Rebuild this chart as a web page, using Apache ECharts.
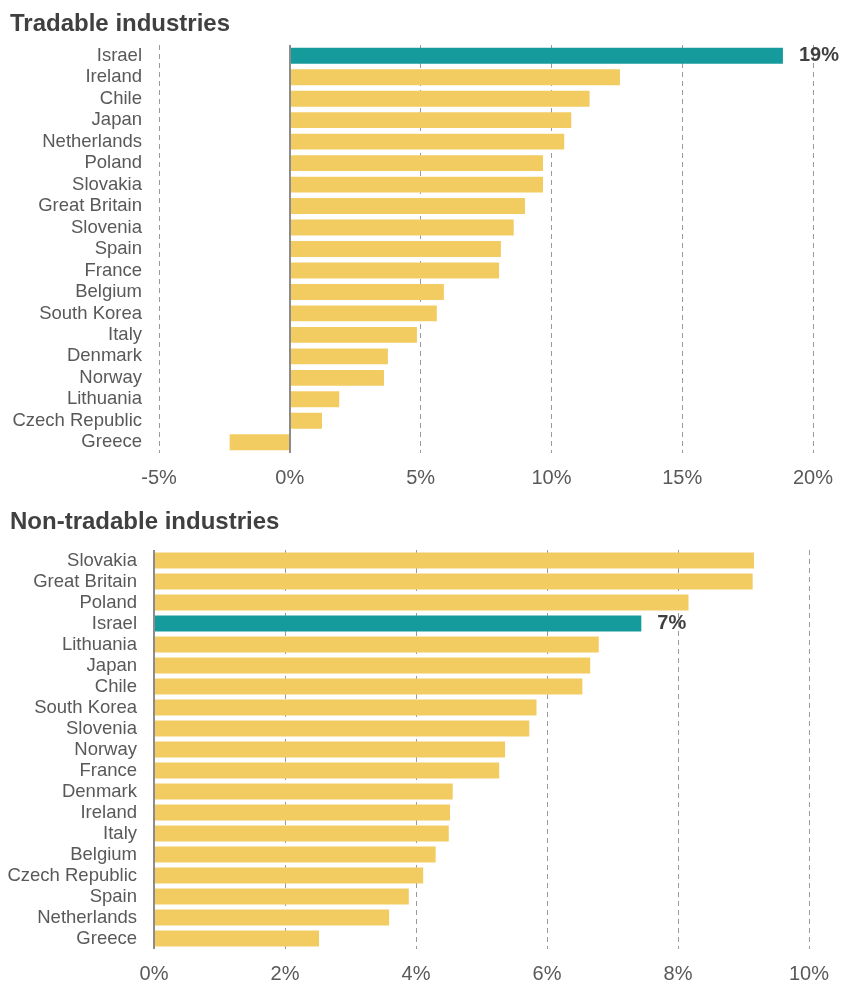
<!DOCTYPE html>
<html>
<head>
<meta charset="utf-8">
<script src="https://cdn.jsdelivr.net/npm/echarts@6/dist/echarts.min.js"></script>
<style>
  html, body { margin: 0; padding: 0; background: #fff; }
  #chart { width: 842px; height: 984px; }
</style>
</head>
<body>
<div id="chart"></div>
<script>
// Tradable industries (percent)
const tradableCountries = ['Israel', 'Ireland', 'Chile', 'Japan', 'Netherlands', 'Poland', 'Slovakia',
  'Great Britain', 'Slovenia', 'Spain', 'France', 'Belgium', 'South Korea', 'Italy', 'Denmark',
  'Norway', 'Lithuania', 'Czech Republic', 'Greece'];
const tradableValues = [18.85, 12.62, 11.46, 10.76, 10.49, 9.68, 9.68, 8.99, 8.56, 8.07, 8.0,
  5.89, 5.62, 4.86, 3.75, 3.6, 1.89, 1.23, -2.3];
const tradableTicks = [-5, 0, 5, 10, 15, 20];

// Non-tradable industries (percent)
const nonTradableCountries = ['Slovakia', 'Great Britain', 'Poland', 'Israel', 'Lithuania', 'Japan',
  'Chile', 'South Korea', 'Slovenia', 'Norway', 'France', 'Denmark', 'Ireland', 'Italy', 'Belgium',
  'Czech Republic', 'Spain', 'Netherlands', 'Greece'];
const nonTradableValues = [9.16, 9.14, 8.16, 7.44, 6.79, 6.66, 6.54, 5.84, 5.73, 5.36, 5.27,
  4.56, 4.52, 4.50, 4.30, 4.11, 3.89, 3.59, 2.52];
const nonTradableTicks = [0, 2, 4, 6, 8, 10];

const highlight = 'Israel';
const YELLOW = '#F2CC60';
const TEAL = '#159B9C';
const FONT = '"Liberation Sans", Arial, sans-serif';

function barData(names, values) {
  return values.map((v, i) => {
    const isHi = names[i] === highlight;
    return {
      value: v,
      itemStyle: { color: isHi ? TEAL : YELLOW },
      label: {
        show: isHi,
        position: 'right',
        distance: 16,
        formatter: p => Math.round(p.value) + '%',
        fontFamily: FONT,
        fontWeight: 'bold',
        fontSize: 20,
        color: '#404040'
      }
    };
  });
}

function valueAxis(gridIndex, ticks) {
  return {
    type: 'value',
    gridIndex,
    min: ticks[0],
    max: ticks[ticks.length - 1],
    interval: ticks[1] - ticks[0],
    axisLine: { show: false },
    axisTick: { show: false },
    axisLabel: {
      formatter: v => v + '%',
      fontFamily: FONT,
      fontSize: 20,
      color: '#595959',
      margin: 15
    },
    splitLine: {
      show: true,
      lineStyle: { color: '#9a9a9a', type: [5, 4], width: 1 }
    }
  };
}

function categoryAxis(gridIndex, names) {
  return {
    type: 'category',
    gridIndex,
    data: names,
    inverse: true,
    axisLine: { show: false },
    axisTick: { show: false },
    axisLabel: {
      interval: 0,
      hideOverlap: false,
      fontFamily: FONT,
      fontSize: 18.5,
      color: '#595959',
      margin: 17
    }
  };
}

const zeroLine = {
  silent: true,
  symbol: ['none', 'none'],
  label: { show: false },
  lineStyle: { color: '#8c8c8c', type: 'solid', width: 2 },
  data: [{ xAxis: 0 }]
};

const titleStyle = { fontFamily: FONT, fontSize: 24, fontWeight: 'bold', color: '#404040' };

const chart = echarts.init(document.getElementById('chart'), null, { renderer: 'canvas' });
chart.setOption({
  animation: false,
  backgroundColor: '#fff',
  title: [
    { text: 'Tradable industries', left: 5, top: 7, textStyle: titleStyle },
    { text: 'Non-tradable industries', left: 5, top: 505, textStyle: titleStyle }
  ],
  grid: [
    { left: 159, right: 29, top: 45, height: 408 },
    { left: 154, right: 33, top: 550, height: 399 }
  ],
  xAxis: [valueAxis(0, tradableTicks), valueAxis(1, nonTradableTicks)],
  yAxis: [categoryAxis(0, tradableCountries), categoryAxis(1, nonTradableCountries)],
  series: [
    {
      type: 'bar', xAxisIndex: 0, yAxisIndex: 0,
      barWidth: '74%',
      data: barData(tradableCountries, tradableValues),
      markLine: zeroLine
    },
    {
      type: 'bar', xAxisIndex: 1, yAxisIndex: 1,
      barWidth: '76%',
      data: barData(nonTradableCountries, nonTradableValues),
      markLine: zeroLine
    }
  ]
});
</script>
</body>
</html>
